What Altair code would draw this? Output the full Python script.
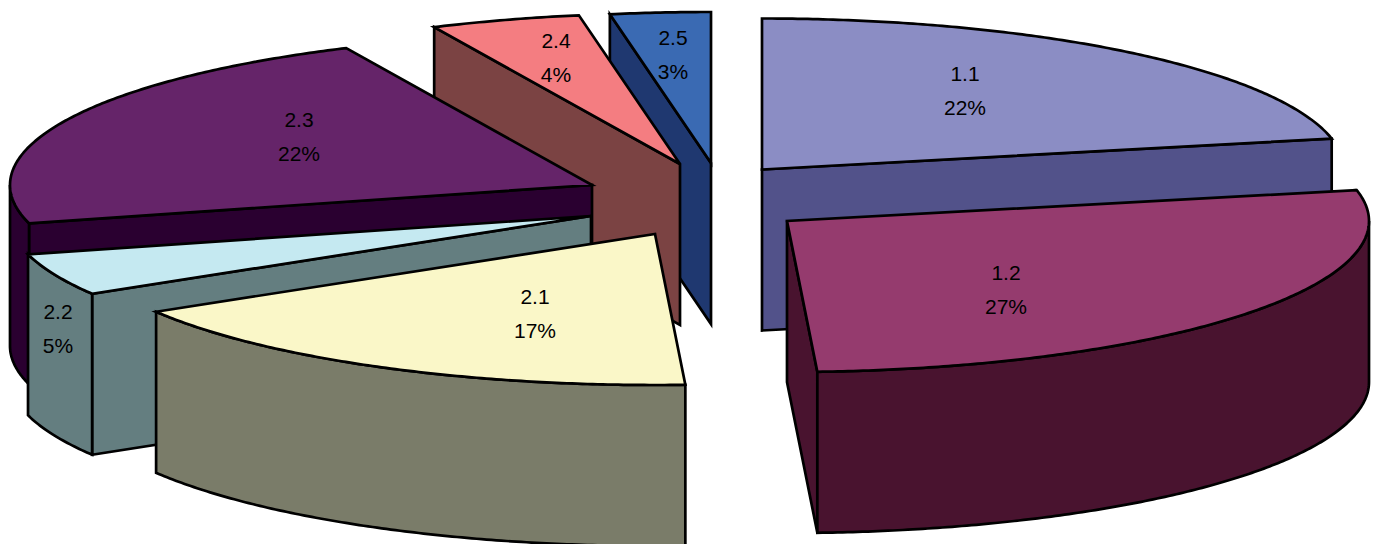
import math
import altair as alt
import pandas as pd

# Data
names = ["1.1", "1.2", "2.1", "2.2", "2.3", "2.4", "2.5"]
shares = [21.72, 27.45, 17.22, 4.53, 22.14, 4.16, 2.78]
labels = ["22%", "27%", "17%", "5%", "22%", "4%", "3%"]

# Styles
top_colors = ["#8B8DC4", "#953B6E", "#FAF7C8", "#C5E9F1", "#652469", "#F47D81", "#3A6AB3"]
side_colors = ["#52528A", "#49132F", "#7A7C69", "#647E80", "#2A0030", "#7B4343", "#1F3870"]

# Layout of the exploded 3-D pie
RX, RY, DEPTH = 582, 151, 161
apex = {"1.1": (762, 169.5), "1.2": (787, 221), "2.1": (655, 234), "2.2": (591, 216),
        "2.3": (592, 185), "2.4": (680, 164), "2.5": (711, 163)}
label_pos = {"1.1": (965, 92), "1.2": (1006, 291), "2.1": (535, 315), "2.2": (58, 330),
             "2.3": (299, 138), "2.4": (556, 59), "2.5": (673, 56)}
draw_order = ["1.1", "2.5", "2.4", "2.3", "2.2", "2.1", "1.2"]
W, H, M = 1367, 536, 8


def rim(name, deg):
    cx, cy = apex[name]
    t = math.radians(deg)
    return (cx + RX * math.sin(t), cy - RY * math.cos(t))


def arc(name, a, b):
    n = max(2, int(abs(b - a)) * 2 + 1)
    return [rim(name, a + (b - a) * i / (n - 1)) for i in range(n)]


def down(pts):
    return [(x, y + DEPTH) for x, y in pts]


total = sum(shares)
spans, acc = {}, 0.0
for n, s in zip(names, shares):
    spans[n] = (acc, acc + s / total * 360)
    acc = spans[n][1]

rows = []
face_id = 0


def add(points, color):
    global face_id
    pts = points + [points[0], points[1]]
    for i, (x, y) in enumerate(pts):
        rows.append({"face": f"f{face_id:03d}", "i": i, "x": x, "y": y, "c": color})
    face_id += 1


for n in draw_order:
    k = names.index(n)
    a, b = spans[n]
    side, top = side_colors[k], top_colors[k]
    c = apex[n]
    if 180 < a < 360:
        e = rim(n, a)
        add([c, e, (e[0], e[1] + DEPTH), (c[0], c[1] + DEPTH)], side)
    if 0 < b < 180:
        e = rim(n, b)
        add([c, e, (e[0], e[1] + DEPTH), (c[0], c[1] + DEPTH)], side)
    lo, hi = max(a, 90), min(b, 270)
    if lo < hi:
        front = arc(n, lo, hi)
        add(front + down(front)[::-1], side)
    add([c] + arc(n, a, b), top)

df = pd.DataFrame(rows)
txt = []
for n, l in zip(names, labels):
    x, y = label_pos[n]
    txt.append({"x": x, "y": y - 17, "t": n})
    txt.append({"x": x, "y": y + 17, "t": l})
tdf = pd.DataFrame(txt)

xs = alt.Scale(domain=[M, M + W], range=[0, W], nice=False, zero=False)
ys = alt.Scale(domain=[M, M + H], range=[0, H], nice=False, zero=False)

faces = alt.Chart(df).mark_line(stroke="black", strokeWidth=2.7, strokeJoin="miter", clip=True).encode(
    x=alt.X("x:Q", scale=xs, axis=None),
    y=alt.Y("y:Q", scale=ys, axis=None),
    detail="face:N",
    order="i:Q",
    fill=alt.Fill("c:N", scale=None, legend=None),
)
texts = alt.Chart(tdf).mark_text(font="Liberation Sans", fontSize=21, color="#000000", baseline="middle").encode(
    x=alt.X("x:Q", scale=xs, axis=None),
    y=alt.Y("y:Q", scale=ys, axis=None),
    text="t:N",
)
chart = (faces + texts).properties(width=W, height=H, padding=0, autosize="none").configure_view(stroke=None)
chart.save("out.html", embed_options={"renderer": "svg", "actions": False})
